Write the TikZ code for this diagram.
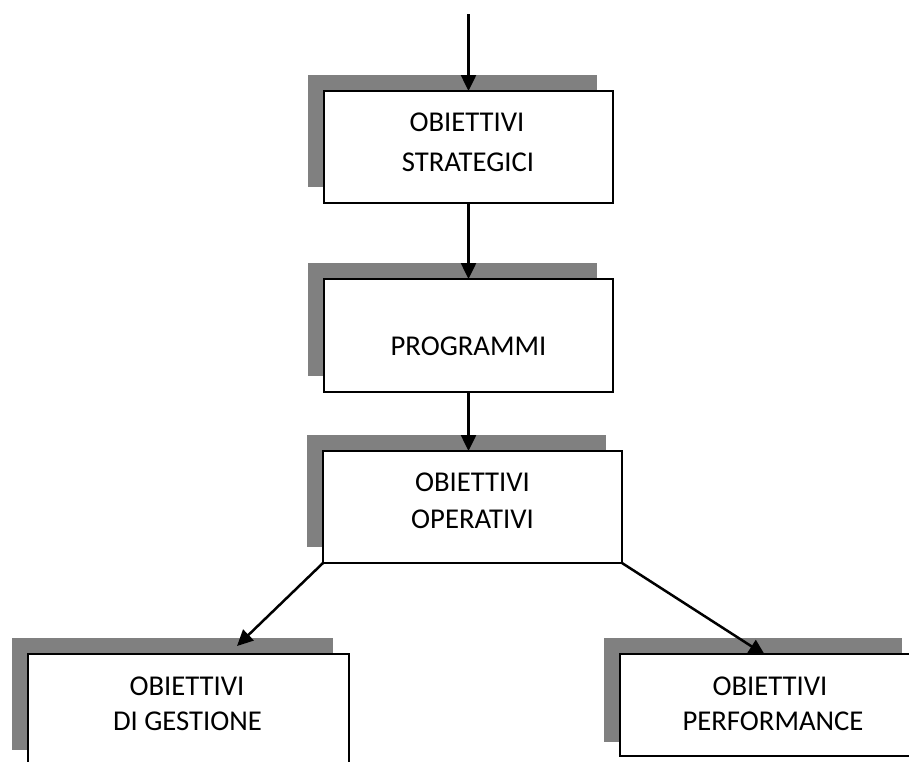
\documentclass[tikz,border=0pt]{standalone}
\usepackage{fontspec}
\setmainfont{Carlito}
\usetikzlibrary{arrows.meta,shadows}
\definecolor{shadowgray}{RGB}{128,128,128}
\begin{document}
\begin{tikzpicture}[x=1pt,y=-1pt,
  boxbase/.style={draw=black,line width=2.8pt,fill=white,inner sep=0pt,outer sep=0pt},
  box/.style={boxbase,general shadow={fill=shadowgray,shadow xshift=-16pt,shadow yshift=16pt}},
  txt/.style={font=\fontsize{28.7pt}{34pt}\selectfont,anchor=base,inner sep=0pt},
  conn/.style={line width=2.5pt,-{Triangle[length=16pt,width=15pt]}}]
\path[use as bounding box] (0,0) rectangle (909,761);
\clip (0,0) rectangle (909,761);
% boxes
\node[box,minimum width=289pt,minimum height=112pt] (b1) at (468.5,147) {};
\node[box,minimum width=289pt,minimum height=113pt] (b2) at (468.5,335.5) {};
\node[box,minimum width=299pt,minimum height=112pt] (b3) at (472.5,507) {};
\node[box,minimum width=321pt,minimum height=112pt] (b4) at (188.5,710) {};
\fill[shadowgray] (604,638) rectangle (902,742);
\node[boxbase,minimum width=310pt,minimum height=102pt] (b5) at (775,705) {};
% texts
\node[txt] (t1a) at (467,131) {OBIETTIVI};
\node[txt] (t1b) at (468,171.5) {STRATEGICI};
\node[txt] (t2) at (468.5,355) {PROGRAMMI};
\node[txt] (t3a) at (472.5,491) {OBIETTIVI};
\node[txt] (t3b) at (472.5,528) {OPERATIVI};
\node[txt] (t4a) at (187,695) {OBIETTIVI};
\node[txt] (t4b) at (187.5,730) {DI GESTIONE};
\node[txt] (t5a) at (770,695) {OBIETTIVI};
\node[txt] (t5b) at (773,730) {PERFORMANCE};
% connectors
\coordinate (top) at (468.5,14);
\coordinate (e4) at (237,646);
\coordinate (e5) at (765,655);
\draw[conn] (top) -- (b1.north);
\draw[conn] (b1.south) -- (b2.north);
\draw[conn] (b2.south) -- (b2.south |- b3.north);
\draw[conn] (b3.south west) -- (e4);
\draw[conn] (b3.south east) -- (e5);
\end{tikzpicture}
\end{document}
